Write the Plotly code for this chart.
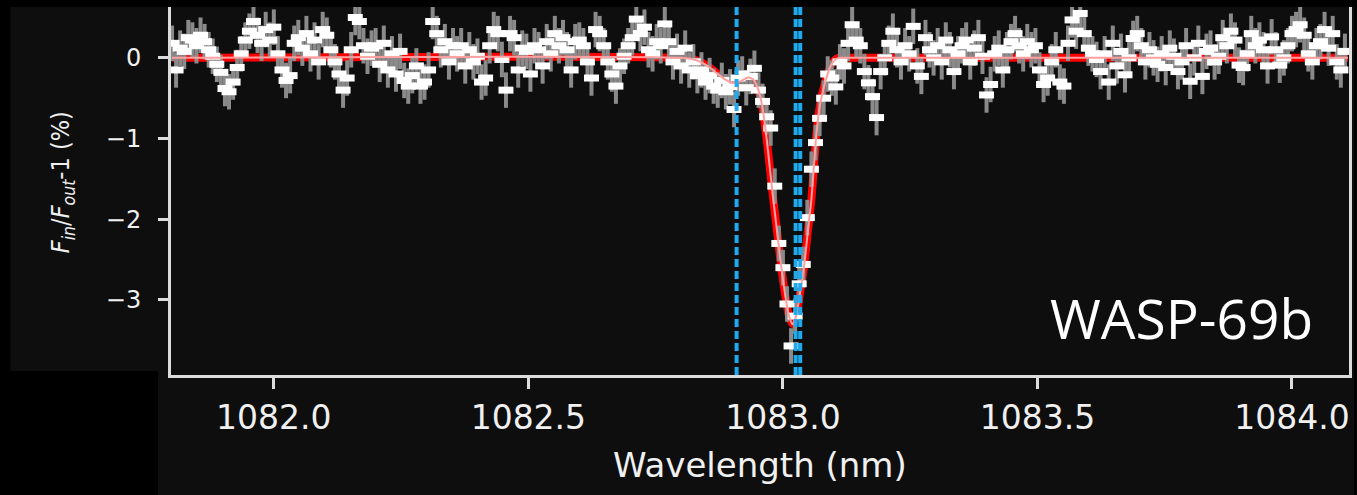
import plotly.graph_objects as go

# ---- He I 10833 transmission spectrum of WASP-69b ----
wavelength_nm = [
    1081.800, 1081.808, 1081.816, 1081.824, 1081.832, 1081.840, 1081.848, 1081.856, 1081.864, 1081.872,
    1081.880, 1081.888, 1081.896, 1081.904, 1081.912, 1081.920, 1081.928, 1081.936, 1081.944, 1081.952,
    1081.960, 1081.968, 1081.976, 1081.984, 1081.992, 1082.000, 1082.008, 1082.016, 1082.024, 1082.032,
    1082.040, 1082.048, 1082.056, 1082.064, 1082.072, 1082.080, 1082.088, 1082.096, 1082.104, 1082.112,
    1082.120, 1082.128, 1082.136, 1082.144, 1082.152, 1082.160, 1082.168, 1082.176, 1082.184, 1082.192,
    1082.200, 1082.208, 1082.216, 1082.224, 1082.232, 1082.240, 1082.248, 1082.256, 1082.264, 1082.272,
    1082.280, 1082.288, 1082.296, 1082.304, 1082.312, 1082.320, 1082.328, 1082.336, 1082.344, 1082.352,
    1082.360, 1082.368, 1082.376, 1082.384, 1082.392, 1082.400, 1082.408, 1082.416, 1082.424, 1082.432,
    1082.440, 1082.448, 1082.456, 1082.464, 1082.472, 1082.480, 1082.488, 1082.496, 1082.504, 1082.512,
    1082.520, 1082.528, 1082.536, 1082.544, 1082.552, 1082.560, 1082.568, 1082.576, 1082.584, 1082.592,
    1082.600, 1082.608, 1082.616, 1082.624, 1082.632, 1082.640, 1082.648, 1082.656, 1082.664, 1082.672,
    1082.680, 1082.688, 1082.696, 1082.704, 1082.712, 1082.720, 1082.728, 1082.736, 1082.744, 1082.752,
    1082.760, 1082.768, 1082.776, 1082.784, 1082.792, 1082.800, 1082.808, 1082.816, 1082.824, 1082.832,
    1082.840, 1082.848, 1082.856, 1082.864, 1082.872, 1082.880, 1082.888, 1082.896, 1082.904, 1082.912,
    1082.920, 1082.928, 1082.936, 1082.944, 1082.952, 1082.960, 1082.968, 1082.976, 1082.984, 1082.992,
    1083.000, 1083.008, 1083.016, 1083.024, 1083.032, 1083.040, 1083.048, 1083.056, 1083.064, 1083.072,
    1083.080, 1083.088, 1083.096, 1083.104, 1083.112, 1083.120, 1083.128, 1083.136, 1083.144, 1083.152,
    1083.160, 1083.168, 1083.176, 1083.184, 1083.192, 1083.200, 1083.208, 1083.216, 1083.224, 1083.232,
    1083.240, 1083.248, 1083.256, 1083.264, 1083.272, 1083.280, 1083.288, 1083.296, 1083.304, 1083.312,
    1083.320, 1083.328, 1083.336, 1083.344, 1083.352, 1083.360, 1083.368, 1083.376, 1083.384, 1083.392,
    1083.400, 1083.408, 1083.416, 1083.424, 1083.432, 1083.440, 1083.448, 1083.456, 1083.464, 1083.472,
    1083.480, 1083.488, 1083.496, 1083.504, 1083.512, 1083.520, 1083.528, 1083.536, 1083.544, 1083.552,
    1083.560, 1083.568, 1083.576, 1083.584, 1083.592, 1083.600, 1083.608, 1083.616, 1083.624, 1083.632,
    1083.640, 1083.648, 1083.656, 1083.664, 1083.672, 1083.680, 1083.688, 1083.696, 1083.704, 1083.712,
    1083.720, 1083.728, 1083.736, 1083.744, 1083.752, 1083.760, 1083.768, 1083.776, 1083.784, 1083.792,
    1083.800, 1083.808, 1083.816, 1083.824, 1083.832, 1083.840, 1083.848, 1083.856, 1083.864, 1083.872,
    1083.880, 1083.888, 1083.896, 1083.904, 1083.912, 1083.920, 1083.928, 1083.936, 1083.944, 1083.952,
    1083.960, 1083.968, 1083.976, 1083.984, 1083.992, 1084.000, 1084.008, 1084.016, 1084.024, 1084.032,
    1084.040, 1084.048, 1084.056, 1084.064, 1084.072, 1084.080, 1084.088, 1084.096, 1084.104,
]

excess_pct = [
    0.18, -0.15, 0.12, 0.08, 0.25, 0.22, 0.15, 0.28, 0.20, 0.10,
    0.02, -0.08, -0.18, -0.38, -0.42, -0.30, -0.12, 0.05, 0.22, 0.33,
    0.45, 0.28, 0.18, 0.35, 0.22, 0.38, 0.05, -0.15, -0.28, -0.22,
    0.18, 0.25, 0.12, 0.30, 0.05, 0.22, -0.05, 0.35, 0.28, 0.10,
    -0.05, -0.20, -0.40, -0.25, 0.10, 0.50, 0.45, 0.15, 0.02, 0.12,
    0.15, -0.08, 0.18, -0.15, 0.05, -0.20, 0.08, -0.28, -0.35, -0.22,
    -0.10, -0.35, -0.30, -0.15, 0.45, 0.30, 0.10, 0.20, -0.05, 0.15,
    0.05, 0.15, -0.10, 0.10, -0.05, 0.02, -0.30, -0.25, 0.15, 0.35,
    0.30, -0.02, -0.40, 0.30, 0.25, -0.15, 0.12, 0.08, -0.20, 0.15,
    0.10, -0.10, 0.20, 0.05, 0.30, 0.15, 0.25, 0.10, -0.15, 0.20,
    0.22, 0.15, -0.05, -0.25, 0.35, 0.30, 0.15, -0.05, -0.20, -0.35,
    -0.10, 0.02, 0.15, 0.25, 0.48, 0.30, 0.38, 0.10, 0.05, 0.20,
    0.15, 0.42, 0.20, -0.05, 0.08, -0.10, 0.12, -0.15, -0.05, -0.22,
    -0.15, -0.30, -0.22, -0.35, -0.40, -0.28, -0.42, -0.36, -0.64, -0.25,
    -0.20, -0.37, -0.23, -0.13, -0.40, -0.54, -0.73, -0.87, -1.59, -2.30,
    -2.60, -3.05, -3.57, -3.20, -2.80, -2.56, -1.98, -1.38, -1.05, -0.75,
    -0.50, -0.20, -0.25, -0.36, -0.05, -0.10, 0.18, 0.41, 0.22, 0.15,
    -0.17, -0.31, -0.48, -0.74, -0.17, 0.00, 0.18, 0.33, 0.10, -0.05,
    0.15, 0.05, 0.39, -0.10, -0.23, 0.25, 0.10, 0.00, 0.15, -0.05,
    0.22, 0.10, -0.17, 0.05, 0.15, 0.22, -0.05, 0.12, 0.25, 0.02,
    -0.46, -0.33, 0.05, 0.12, -0.15, 0.10, 0.20, 0.30, 0.15, 0.05,
    0.20, 0.10, 0.15, -0.15, -0.33, -0.25, -0.05, 0.10, -0.30, -0.35,
    0.18, 0.47, 0.33, 0.55, 0.30, 0.12, 0.05, -0.02, -0.17, 0.05,
    -0.30, 0.18, -0.10, 0.08, -0.21, 0.00, 0.24, 0.30, 0.15, -0.05,
    0.10, 0.00, -0.08, 0.05, -0.12, 0.12, 0.02, -0.17, -0.05, 0.15,
    -0.29, 0.00, 0.18, -0.23, 0.08, 0.12, -0.05, 0.02, 0.25, 0.15,
    0.33, 0.22, -0.09, -0.12, 0.05, 0.30, 0.15, 0.22, 0.10, -0.10,
    0.26, 0.10, -0.09, 0.00, 0.15, 0.30, 0.35, 0.41, 0.28, 0.05,
    -0.05, 0.15, 0.20, 0.35, 0.12, 0.30, -0.05, -0.15, 0.08,
]
excess_err_pct = 0.22

# best-fit absorption model
model_wavelength_nm = [
    1081.800, 1082.800, 1082.830, 1082.854, 1082.870, 1082.887, 1082.900, 1082.909,
    1082.920, 1082.932, 1082.942, 1082.952, 1082.960, 1082.968, 1082.975, 1082.981,
    1082.987, 1082.995, 1083.005, 1083.012, 1083.019, 1083.026, 1083.034, 1083.042,
    1083.049, 1083.056, 1083.066, 1083.073, 1083.079, 1083.086, 1083.093, 1083.100,
    1083.109, 1083.130, 1084.110,
]
model_pct = [
    0.00, 0.00, -0.03, -0.11, -0.19, -0.27, -0.31, -0.31,
    -0.28, -0.24, -0.27, -0.40, -0.62, -1.00, -1.40, -1.75,
    -2.07, -2.50, -2.96, -3.20, -3.30, -3.20, -2.90, -2.56,
    -2.15, -1.75, -0.93, -0.58, -0.40, -0.24, -0.11, -0.04,
    0.00, 0.00, 0.00,
]

# He I triplet rest wavelengths (vacuum)
he_lines_nm = [1082.909, 1083.025, 1083.034]

x_tick_vals = [1082.0, 1082.5, 1083.0, 1083.5, 1084.0]
x_tick_text = ["1082.0", "1082.5", "1083.0", "1083.5", "1084.0"]
y_tick_vals = [0, -1, -2, -3]
y_tick_text = ["0", "\u22121", "\u22122", "\u22123"]

# ---- page geometry (pixels) ----
W, H = 1357, 495
ML, MR, MT, MB = 171, 5, 7, 120
PW, PH = W - ML - MR, H - MT - MB
X_RANGE = [1081.798, 1084.112]

# half-width of the rectangular data markers, in wavelength units (~7.5 px)
MARKER_HALF_NM = 7.5 * (X_RANGE[1] - X_RANGE[0]) / PW


def paper_x(px):
    return (px - ML) / PW


def paper_y(py):
    return (H - MB - py) / PH


PANEL = "#0e0e0e"
AXIS = "#dcdcdc"
TEXT = "#f0f0f0"

fig = go.Figure()

# fitted model (thick red, underneath the data)
fig.add_trace(go.Scatter(
    x=model_wavelength_nm, y=model_pct, mode="lines",
    line=dict(color="#ff0000", width=8, shape="spline", smoothing=0.6),
    hoverinfo="skip", showlegend=False,
))

# grey 1-sigma error bars
fig.add_trace(go.Scatter(
    x=wavelength_nm, y=excess_pct, mode="markers",
    marker=dict(size=1, color="rgba(0,0,0,0)"),
    error_y=dict(type="constant", value=excess_err_pct, color="#8a8a8a",
                 thickness=4, width=0),
    hoverinfo="skip", showlegend=False,
))

# white rectangular data markers
fig.add_trace(go.Scatter(
    x=wavelength_nm, y=excess_pct, mode="markers",
    marker=dict(size=1, color="white"),
    error_x=dict(type="constant", value=MARKER_HALF_NM, color="white",
                 thickness=7, width=0),
    showlegend=False,
))

# thin light model line on top
fig.add_trace(go.Scatter(
    x=model_wavelength_nm, y=model_pct, mode="lines",
    line=dict(color="#ffa0a0", width=2, shape="spline", smoothing=0.6),
    hoverinfo="skip", showlegend=False,
))

shapes = [
    dict(type="rect", xref="paper", yref="paper", layer="below",
         x0=paper_x(10), x1=paper_x(W), y0=paper_y(371), y1=paper_y(MT),
         fillcolor=PANEL, line=dict(width=0)),
    dict(type="rect", xref="paper", yref="paper", layer="below",
         x0=paper_x(158), x1=paper_x(W), y0=paper_y(H), y1=paper_y(371),
         fillcolor=PANEL, line=dict(width=0)),
]
for wl in he_lines_nm:
    shapes.append(dict(type="line", xref="x", yref="paper", layer="above",
                       x0=wl, x1=wl, y0=0, y1=1,
                       line=dict(color="#1fa9ee", width=4, dash="8px,4px")))

annotations = [
    dict(text="WASP-69b", xref="paper", yref="paper",
         x=paper_x(1184), y=paper_y(317), xanchor="center", yanchor="middle",
         showarrow=False, font=dict(family="Open Sans", size=55, color="white")),
    dict(text="Wavelength (nm)", xref="paper", yref="paper",
         x=paper_x(761), y=paper_y(465), xanchor="center", yanchor="middle",
         showarrow=False, font=dict(family="DejaVu Sans", size=34, color=TEXT)),
    dict(text="<i>F</i><sub><i>in</i></sub>/<i>F</i><sub><i>out</i></sub>-1 (%)",
         xref="paper", yref="paper", x=paper_x(62), y=paper_y(182),
         xanchor="center", yanchor="middle", textangle=-90, showarrow=False,
         font=dict(family="DejaVu Sans Condensed, DejaVu Sans", size=25, color=TEXT)),
]

fig.update_layout(
    width=W, height=H,
    margin=dict(l=ML, r=MR, t=MT, b=MB, pad=0),
    paper_bgcolor="black", plot_bgcolor=PANEL,
    shapes=shapes, annotations=annotations,
    showlegend=False,
    xaxis=dict(
        range=X_RANGE, showgrid=False, zeroline=False,
        showline=True, linecolor=AXIS, linewidth=3,
        tickmode="array", tickvals=x_tick_vals, ticktext=x_tick_text,
        ticks="outside", ticklen=11, tickwidth=3, tickcolor=AXIS,
        tickfont=dict(family="DejaVu Sans", size=33, color=TEXT),
    ),
    yaxis=dict(
        range=[-3.93, 0.63], showgrid=False, zeroline=False,
        showline=True, linecolor=AXIS, linewidth=3, mirror=True,
        tickmode="array", tickvals=y_tick_vals, ticktext=y_tick_text,
        ticks="outside", ticklen=10, tickwidth=3, tickcolor=AXIS,
        ticklabelstandoff=12,
        tickfont=dict(family="DejaVu Sans", size=24, color=TEXT),
    ),
)

fig.write_html("out.html")
